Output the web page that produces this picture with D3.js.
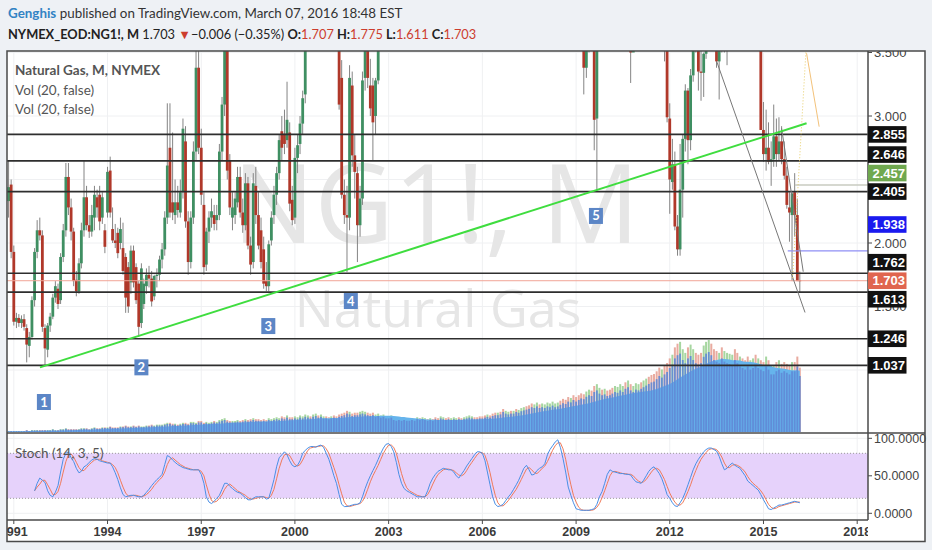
<!DOCTYPE html>
<html><head><meta charset="utf-8">
<script src="https://cdn.jsdelivr.net/npm/d3@7"></script>
<style>body{margin:0;background:#eef1f5;}svg{display:block}</style>
</head><body><svg id="c" width="932" height="550"></svg>
<script>
// ---------------- DATA (monthly NG1!, first bar = Nov 1990) ----------------
const startMonth = "1990-11";
const opens = [
 2.33,2.46,
 1.93,1.38,1.41,1.37,1.40,1.33,1.19,1.26,1.55,1.93,2.10,2.06,
 1.33,1.16,1.35,1.42,1.57,1.64,1.55,1.89,2.10,2.52,2.28,2.09,
 1.71,1.62,1.84,2.10,2.36,2.14,2.09,2.20,2.36,2.38,2.20,2.10,
 2.24,2.57,2.11,2.02,2.08,2.00,1.96,1.89,1.81,1.69,1.94,1.81,
 1.68,1.37,1.52,1.66,1.75,1.72,1.58,1.74,1.75,1.87,1.95,2.20,
 2.75,2.32,2.22,2.32,2.24,2.40,2.80,2.17,1.85,2.20,2.72,3.38,
 2.75,2.30,1.83,2.09,2.20,2.22,2.18,2.22,2.72,3.09,3.55,2.65,
 2.20,2.22,2.32,2.52,2.24,2.14,2.47,1.98,1.85,2.45,2.22,2.10,
 1.95,1.70,1.66,2.02,2.22,2.38,2.55,2.88,2.86,2.81,2.87,2.34,
 2.20,2.67,2.78,2.94,3.17,4.33,4.45,3.90,4.65,5.30,4.60,6.50,
 9.70,5.90,5.00,5.10,4.50,3.75,3.30,2.38,2.22,2.20,3.24,2.69,
 2.55,2.14,2.35,3.30,3.80,3.24,3.24,3.00,3.28,4.10,4.20,4.20,
 4.75,5.40,9.00,5.00,5.30,6.10,5.40,4.60,4.90,4.80,4.60,4.90,
 6.20,5.40,5.40,5.90,5.80,6.40,6.20,6.10,5.10,6.80,8.70,7.60,
 6.10,6.30,6.70,7.70,6.80,6.30,6.90,7.60,10.80,13.90,12.20,11.90,
 11.20,8.40,6.70,7.20,6.60,6.20,6.10,8.20,6.10,5.60,7.40,8.80,
 6.30,7.70,7.30,7.70,7.80,7.80,6.80,6.10,5.50,6.40,7.90,7.30,
 7.50,8.10,9.40,10.10,10.80,11.70,13.40,9.10,7.90,7.40,6.80,6.90,
 5.60,4.50,4.20,3.80,3.38,3.80,3.84,3.70,2.98,4.84,5.00,4.90,
 5.57,5.13,4.80,3.87,3.93,4.37,4.62,4.80,3.82,3.87,3.50,4.20,
 4.41,4.42,4.03,4.39,4.64,4.55,4.37,4.30,4.04,3.67,3.92,3.54,
 2.98,2.48,2.62,2.13,1.95,2.42,2.82,3.20,2.81,3.32,3.70,3.56,
 3.35,3.34,3.49,4.02,4.36,3.99,3.57,3.43,3.58,3.56,3.60,3.84,
 4.23,4.94,4.61,4.37,4.80,4.54,4.42,3.78,4.06,4.12,3.86,4.10,
 2.89,2.70,2.75,2.64,2.66,2.84,2.70,2.80,2.66,2.53,2.28,2.22,
 2.40,2.22,1.707];
const highs = [
 2.65,2.50,
 1.98,1.45,1.44,1.43,1.44,1.36,1.30,1.58,1.96,2.18,2.20,2.10,
 1.36,1.37,1.45,1.60,1.70,1.68,1.92,2.15,2.63,2.63,2.35,2.12,
 1.78,1.88,2.16,2.65,2.45,2.22,2.30,2.45,2.42,2.45,2.40,2.15,
 2.60,2.68,2.28,2.15,2.12,2.20,2.16,1.92,1.85,1.98,1.98,1.84,
 1.70,1.84,1.72,1.80,1.82,1.78,1.75,1.80,1.90,2.00,2.25,3.10,
 3.10,2.87,2.50,2.45,2.50,2.98,2.92,2.25,2.25,2.80,3.80,4.10,
 2.90,2.40,2.12,2.25,2.35,2.30,2.30,2.78,3.15,3.85,3.65,2.70,
 2.40,2.40,2.60,2.60,2.35,2.55,2.52,2.05,2.55,2.60,2.40,2.20,
 2.05,1.85,2.02,2.25,2.45,2.60,2.85,3.00,3.05,3.27,2.95,2.45,
 2.75,2.85,3.00,3.20,4.45,4.80,4.60,4.70,5.40,5.40,6.40,10.10,
 9.90,6.20,5.50,5.60,4.60,4.00,3.44,2.50,2.45,3.40,3.35,2.85,
 2.60,2.45,3.35,3.90,3.95,3.45,3.30,3.30,4.20,4.50,4.40,5.10,
 5.70,11.90,9.50,5.40,6.40,6.40,5.50,5.20,5.10,5.00,5.00,7.20,
 7.00,5.60,5.90,6.10,6.60,6.70,6.40,6.20,7.00,9.00,8.90,8.00,
 6.90,6.80,7.80,7.90,7.00,7.60,8.00,11.00,14.50,14.80,12.90,15.70,
 11.50,8.60,7.60,8.10,7.20,6.70,8.30,8.60,6.30,7.70,8.90,9.20,
 7.80,8.50,7.90,8.00,8.20,8.00,7.20,6.60,6.50,8.00,8.30,7.60,
 8.20,9.50,10.20,11.20,11.90,13.70,13.60,9.80,8.10,7.80,7.20,7.00,
 6.10,4.70,4.50,4.10,4.40,4.30,4.10,4.10,4.90,5.10,5.10,6.10,
 6.10,5.60,4.95,4.30,4.40,5.00,4.90,4.90,4.10,3.95,4.40,4.60,
 4.70,4.60,4.40,4.70,4.70,4.90,4.60,4.40,4.10,3.95,3.95,3.60,
 3.10,2.82,2.72,2.22,2.78,2.85,3.25,3.22,3.37,3.71,4.00,3.62,
 3.60,3.50,4.10,4.44,4.43,4.05,3.83,3.66,3.80,3.85,3.90,4.50,
 5.60,6.49,4.90,4.85,4.90,4.80,4.45,4.10,4.15,4.15,4.60,4.20,
 3.11,3.05,2.95,2.80,3.09,2.98,2.99,2.92,2.80,2.60,2.40,2.40,
 2.55,2.35,1.775];
const lows = [
 2.20,1.88,
 1.35,1.33,1.34,1.33,1.31,1.06,1.10,1.24,1.50,1.88,2.02,1.30,
 1.04,1.10,1.30,1.40,1.53,1.48,1.52,1.85,2.05,2.22,2.02,1.66,
 1.58,1.60,1.80,2.05,2.10,2.04,2.05,2.10,2.20,2.10,2.15,1.92,
 2.20,2.20,2.00,1.96,1.88,1.95,1.75,1.45,1.45,1.60,1.65,1.52,
 1.26,1.33,1.48,1.60,1.65,1.50,1.55,1.65,1.70,1.80,1.90,2.15,
 2.20,2.18,2.15,2.20,2.20,2.35,2.12,1.75,1.80,2.15,2.65,2.70,
 2.30,1.75,1.78,2.00,2.12,2.10,2.10,2.18,2.65,3.00,2.50,2.22,
 2.10,2.15,2.28,2.20,2.08,2.10,1.95,1.75,1.80,2.15,1.95,1.80,
 1.64,1.62,1.62,1.98,2.15,2.30,2.50,2.65,2.70,2.75,2.25,2.14,
 2.15,2.55,2.70,2.85,3.10,4.10,3.70,3.75,4.50,4.40,4.50,6.20,
 5.60,4.80,4.80,4.70,3.70,3.05,2.35,2.15,1.77,2.10,2.60,2.35,
 1.85,2.05,2.30,3.20,3.22,3.00,2.65,2.85,3.25,3.80,3.90,4.00,
 4.60,5.20,4.80,4.70,5.20,5.30,4.50,4.50,4.50,4.40,4.20,4.80,
 5.20,5.10,5.20,5.30,5.70,6.00,5.90,5.00,4.60,6.60,6.70,5.90,
 5.80,5.90,6.60,6.50,6.10,6.20,6.80,7.50,10.50,11.90,10.50,11.00,
 8.00,6.60,6.40,6.60,5.90,5.90,5.70,6.10,4.20,4.90,7.20,6.20,
 5.80,7.20,6.90,7.50,7.50,6.80,5.90,5.30,5.30,6.30,7.00,6.90,
 7.40,7.70,8.90,9.30,10.60,11.40,9.00,7.70,7.00,6.20,6.00,5.40,
 4.50,4.00,3.60,3.17,3.30,3.50,3.55,2.73,2.41,4.00,4.20,4.40,
 5.10,4.80,3.80,3.80,3.90,4.10,4.30,3.80,3.65,3.26,3.52,4.00,
 4.20,3.80,3.80,4.10,4.00,4.30,4.20,3.80,3.65,3.55,3.43,2.95,
 2.23,2.42,2.10,1.90,1.90,2.20,2.72,2.62,2.73,3.27,3.50,3.20,
 3.12,3.15,3.45,3.90,3.95,3.56,3.38,3.13,3.50,3.50,3.40,3.80,
 4.10,4.50,4.20,4.30,4.40,4.40,3.75,3.73,3.80,3.55,3.75,2.89,
 2.64,2.57,2.62,2.45,2.60,2.60,2.65,2.62,2.50,2.27,2.01,1.70,
 2.05,1.70,1.611];
const closes = [
 2.44,1.93,
 1.38,1.41,1.37,1.40,1.34,1.20,1.26,1.55,1.93,2.10,2.06,1.34,
 1.17,1.35,1.42,1.57,1.66,1.52,1.89,2.10,2.52,2.28,2.09,1.70,
 1.62,1.84,2.10,2.36,2.14,2.09,2.22,2.38,2.28,2.17,2.36,1.97,
 2.56,2.24,2.02,2.00,1.92,2.11,1.78,1.57,1.50,1.94,1.69,1.55,
 1.34,1.80,1.68,1.75,1.72,1.54,1.74,1.75,1.87,1.95,2.20,2.61,
 2.24,2.24,2.32,2.26,2.40,2.90,2.17,1.85,2.20,2.72,3.38,2.75,
 2.38,1.81,2.09,2.20,2.25,2.15,2.22,2.72,3.09,3.60,2.57,2.28,
 2.28,2.35,2.52,2.24,2.14,2.47,1.98,1.83,2.47,2.22,1.98,1.85,
 1.68,1.66,1.99,2.20,2.38,2.55,2.81,2.75,2.78,2.97,2.31,2.18,
 2.67,2.77,2.94,3.14,4.33,4.48,3.81,4.65,5.30,4.55,6.30,9.78,
 6.10,5.00,5.10,4.70,3.75,3.09,2.38,2.22,2.20,3.30,2.69,2.56,
 2.14,2.35,3.28,3.80,3.30,3.06,2.95,3.28,4.10,4.20,4.20,4.75,
 5.40,9.10,5.00,5.30,6.10,5.40,4.60,4.90,4.80,4.60,4.90,6.20,
 5.40,5.40,5.90,5.80,6.40,6.20,6.10,5.10,6.80,8.70,7.60,6.10,
 6.30,6.70,7.70,6.80,6.30,6.90,7.60,10.80,13.90,12.20,11.90,11.20,
 8.40,6.70,7.20,6.60,6.20,6.10,8.20,6.10,5.60,7.40,8.80,6.30,
 7.70,7.30,7.70,7.80,7.80,6.80,6.10,5.50,6.40,7.90,7.30,7.50,
 8.10,9.40,10.10,10.80,11.70,13.40,9.10,7.90,7.40,6.80,6.90,5.60,
 4.50,4.20,3.80,3.38,3.80,3.84,3.70,2.97,4.84,5.00,4.90,5.57,
 5.13,4.80,3.87,3.93,4.37,4.62,4.80,3.82,3.87,3.50,4.20,4.41,
 4.42,4.03,4.39,4.64,4.55,4.37,4.30,4.04,3.67,3.92,3.54,2.99,
 2.50,2.62,2.13,1.95,2.42,2.82,3.20,2.81,3.32,3.70,3.56,3.35,
 3.34,3.49,4.02,4.36,3.99,3.57,3.43,3.58,3.56,3.60,3.84,4.23,
 4.94,4.61,4.37,4.80,4.54,4.42,3.78,4.06,4.12,3.86,4.10,2.89,
 2.70,2.75,2.64,2.66,2.84,2.70,2.80,2.66,2.53,2.30,2.24,2.39,
 2.22,1.70,1.703];
const volumes = [
 1,1,
 1,1,1,1,1,2,1,2,2,2,2,2,
 2,2,2,3,2,2,3,3,4,3,3,3,
 3,3,4,4,4,3,4,5,4,4,5,5,
 5,6,5,5,5,6,6,7,6,6,7,6,
 7,6,6,7,7,8,7,8,8,8,9,10,
 10,9,9,8,9,10,10,9,11,11,10,12,
 12,10,11,10,11,12,11,13,14,15,13,12,
 12,12,13,12,13,14,13,14,15,14,14,13,
 14,13,15,14,15,16,15,17,16,18,16,16,
 17,16,18,17,19,18,17,19,20,18,19,17,
 17,16,17,18,17,19,20,21,23,22,20,21,
 21,22,23,22,21,20,21,19,20,18,19,17,
 17,18,15,14,15,14,15,14,14,15,14,16,
 15,16,15,14,15,14,16,15,17,16,15,16,
 15,16,15,16,15,16,17,18,17,16,16,17,
 17,18,19,18,20,21,21,22,25,23,22,23,
 23,25,24,26,27,28,29,31,30,32,30,31,
 30,32,31,33,31,32,34,36,35,38,37,40,
 38,40,42,41,44,46,45,50,52,48,46,47,
 45,46,48,50,49,52,50,54,56,52,50,53,
 52,54,56,58,60,62,63,66,70,68,72,75,
 80,84,92,96,98,90,86,92,95,90,86,84,
 86,94,98,100,96,90,88,86,92,88,86,85,
 84,90,86,82,80,78,82,78,80,84,80,78,
 76,82,78,72,72,76,78,74,76,74,72,76,
 76,82,70];
const stochK = [
 null,null,
 null,null,null,null,null,null,null,null,30,40,47,44,
 41,30,24,22,28,37,55,72,80,82,74,69,
 60,54,56,62,64,68,71,73,72,70,69,68,
 67,67,62,54,45,34,25,22,23,24,24,23,
 22,22,24,28,32,37,41,45,48,52,65,77,
 75,71,68,65,63,61,60,59,58,58,58,58,
 52,40,22,15,13,16,20,24,32,40,40,36,
 33,30,28,27,24,21,18,18,20,22,22,22,
 22,19,20,32,45,62,74,78,82,78,70,64,
 62,64,70,80,84,87,89,89,88,90,91,88,
 80,72,62,50,40,25,12,9,9,10,11,12,
 12,14,22,33,42,50,57,64,72,80,87,92,
 93,89,82,68,52,40,33,30,28,26,24,22,
 22,22,22,30,40,47,52,56,58,60,59,58,
 58,55,50,47,52,57,63,68,73,78,82,82,
 80,70,55,38,22,12,9,10,12,17,22,26,
 32,38,44,52,60,64,58,51,52,57,60,62,
 66,78,85,90,95,98,88,73,55,35,24,14,
 6,5,4,4,4,4,5,6,12,22,29,40,
 52,58,56,55,54,53,53,52,52,51,46,42,
 41,40,44,50,56,60,62,58,53,46,36,25,
 20,14,10,9,14,20,28,38,48,58,66,72,
 77,82,85,87,87,85,83,76,66,58,60,64,
 67,64,62,60,55,50,43,40,37,34,31,25,
 18,12,6,5,7,9,11,11,12,13,14,15,
 16,15,14];
const stochD = [
 null,null,
 null,null,null,null,null,null,null,null,30,35,39,44,
 44,38,32,25,25,29,40,55,69,78,79,75,
 68,61,57,57,61,65,68,71,72,72,70,69,
 68,67,65,61,54,44,35,27,23,23,24,24,
 23,22,23,25,28,32,37,41,45,48,55,65,
 72,74,71,68,65,63,61,60,59,58,58,58,
 56,50,38,26,17,15,16,20,25,32,37,39,
 36,33,30,28,26,24,21,19,19,20,21,22,
 22,21,20,24,32,46,60,71,78,79,77,71,
 65,63,65,71,78,84,87,88,89,89,90,90,
 86,80,71,61,51,38,26,15,10,9,10,11,
 12,13,16,23,32,42,50,57,64,72,80,86,
 91,91,88,80,67,53,42,34,30,28,26,24,
 23,22,22,25,31,39,46,52,55,58,59,59,
 58,57,54,51,50,52,57,63,68,73,78,81,
 81,77,68,54,38,24,14,10,10,13,17,22,
 27,32,38,45,52,59,61,58,54,53,56,60,
 63,69,76,84,90,94,94,86,72,54,38,24,
 15,8,5,4,4,4,4,5,8,13,21,30,
 40,50,55,56,55,54,53,53,52,52,50,46,
 43,41,42,45,50,55,59,60,58,52,45,36,
 27,20,15,11,11,14,21,29,38,48,57,65,
 72,77,81,85,86,86,85,81,75,67,61,61,
 64,65,64,62,59,55,49,44,40,37,34,30,
 25,18,12,8,6,7,9,10,11,12,13,14,
 15,15,15];

const levelPrices = [2.855, 2.646, 2.405, 1.762, 1.613, 1.246, 1.037];
const greenLabelPrice = 2.457;
const blueRayPrice = 1.938;
const priceTicks = [3.5, 3.0, 2.5, 2.0, 1.5, 1.0];
const majorPriceTicks = [3.0, 2.0, 1.0];
const stochTicks = [100, 50, 0];
const stochBand = [20, 80];
const yearTicks = [1991, 1994, 1997, 2000, 2003, 2006, 2009, 2012, 2015, 2018];
const supportLine = [["1991-11-03", 1.021], ["2016-05-19", 2.943]];
const downLine1 = [["2013-07-04", 3.428], ["2016-05-01", 1.453]];
const downLine2 = [["2015-08-01", 2.903], ["2016-04-10", 1.774]];
const dottedLine = [["2015-12-08", 1.724], ["2016-05-12", 3.512]];
const orangeLine = [["2016-05-19", 3.494], ["2016-10-13", 2.916]];
const blueRayStart = "2015-10-12";
const greyRayStart = "2016-01-03";
const pointLabels = [
  {n: "1", date: "1991-12-19", price: 0.748},
  {n: "2", date: "1995-02-01", price: 1.021},
  {n: "3", date: "1999-02-24", price: 1.346},
  {n: "4", date: "2001-10-16", price: 1.543},
  {n: "5", date: "2009-08-21", price: 2.213}
];
const headerAuthor = "Genghis";
const headerRest = " published on TradingView.com, March 07, 2016 18:48 EST";
const symbolText = "NYMEX_EOD:NG1!, M";
const changeText = "\u22120.006 (\u22120.35%)";

// ---------------- LAYOUT ----------------
const W = 932, H = 550;
const L = 7, R = 925, T = 51, B = 541.5, AX = 868, PB = 433, SB = 520;
const parseM = d3.timeParse("%Y-%m"), parseD = d3.timeParse("%Y-%m-%d");
const t0 = parseM(startMonth);
const bars = closes.map((c, i) => ({
  date: d3.timeMonth.offset(t0, i), o: opens[i], h: highs[i], l: lows[i], c,
  v: volumes[i], k: stochK[i], d: stochD[i]
}));
// volume moving average (Vol 20)
bars.forEach((b, i) => { b.ma = d3.mean(volumes.slice(Math.max(0, i - 19), i + 1)); });

const x = d3.scaleTime().domain([new Date(1991, 0, 1), new Date(2018, 0, 1)]).range([13.8, 857.2]);
const y = d3.scaleLinear().domain([0, 3.5]).range([497, 52.5]);
const yS = d3.scaleLinear().domain([0, 100]).range([513.3, 438.3]);
const yV1 = d3.scaleLinear().domain([0, 100]).range([PB - 1, 340]);
const yV2 = d3.scaleLinear().domain([0, 100]).range([PB - 1, 352]);

const svg = d3.select("#c");
const defs = svg.append("defs");
function clip(id, x0, y0, w, h) {
  defs.append("clipPath").attr("id", id).append("rect").attr("x", x0).attr("y", y0).attr("width", w).attr("height", h);
}
clip("cMain", L, T, AX - L, PB - T);
clip("cStoch", L, PB, AX - L, SB - PB);
clip("cTime", L, SB, AX - L, B - SB);
clip("cPrice", AX, T, R - AX, PB - T);

svg.append("rect").attr("width", W).attr("height", H).attr("fill", "#eef1f5");
svg.append("rect").attr("x", L).attr("y", T).attr("width", R - L).attr("height", B - T).attr("fill", "#fff");

// header
const hf = "Lato, 'Open Sans', sans-serif";
const h1 = svg.append("text").attr("x", 8).attr("y", 18).attr("font-family", hf).attr("font-size", 13.4);
h1.append("tspan").text(headerAuthor).attr("fill", "#3283c4").attr("font-weight", 700);
h1.append("tspan").text(headerRest).attr("fill", "#333");
const last = bars[bars.length - 1];
const red = "#cc3d2e", f3 = d3.format(".3f");
const h2 = svg.append("text").attr("x", 8).attr("y", 38.5).attr("font-family", hf).attr("font-size", 12.8).attr("fill", "#222");
[[symbolText, 700, "#222"], [" " + f3(last.c) + " ", 400, "#222"], ["\u25BC", 400, red], [changeText + " ", 400, "#222"],
 ["O:", 700, "#222"], [f3(last.o), 400, red], [" H:", 700, "#222"], [f3(last.h), 400, red],
 [" L:", 700, "#222"], [f3(last.l), 400, red], [" C:", 700, "#222"], [f3(last.c), 400, red]]
 .forEach(([t, w, c]) => h2.append("tspan").text(t).attr("font-weight", w).attr("fill", c));

// grid
const grid = svg.append("g").attr("stroke", "#eff0f2").attr("stroke-width", 1);
yearTicks.forEach(yr => {
  const xx = x(new Date(yr, 0, 1));
  if (xx > L && xx < AX) grid.append("line").attr("x1", xx).attr("x2", xx).attr("y1", T).attr("y2", SB);
});
priceTicks.forEach(p => grid.append("line").attr("x1", L).attr("x2", AX).attr("y1", y(p)).attr("y2", y(p)).attr("clip-path", "url(#cMain)"));
stochTicks.forEach(s => grid.append("line").attr("x1", L).attr("x2", AX).attr("y1", yS(s)).attr("y2", yS(s)));

// watermark
const main = svg.append("g").attr("clip-path", "url(#cMain)");
main.append("text").attr("x", 436).attr("y", 243).attr("text-anchor", "middle").attr("font-family", "'Open Sans', sans-serif")
  .attr("font-size", 109).attr("fill", "#e6e6e6").text("NG1!, M");
main.append("text").attr("x", 438).attr("y", 327).attr("text-anchor", "middle").attr("font-family", "'Open Sans', sans-serif")
  .attr("font-size", 52).attr("fill", "#e6e6e6").text("Natural Gas");

// volume
const vg = main.append("g");
vg.selectAll("rect.vc").data(bars).join("rect")
  .attr("x", d => x(d.date) - 1).attr("width", 2)
  .attr("y", d => yV1(d.v)).attr("height", d => PB - 1 - yV1(d.v))
  .attr("fill", d => d.c >= d.o ? "#a6d6a0" : "#e9aba0");
vg.append("path").datum(bars)
  .attr("d", d3.area().x(d => x(d.date)).y0(PB - 1).y1(d => yV2(d.ma)))
  .attr("fill", "#66b4ec");
vg.selectAll("rect.vb").data(bars).join("rect")
  .attr("x", d => x(d.date) - 0.9).attr("width", 1.8)
  .attr("y", d => yV2(d.v)).attr("height", d => PB - 1 - yV2(d.v))
  .attr("fill", "#5f88d6").attr("opacity", 0.9);

// candles
const cg = main.append("g");
cg.selectAll("line").data(bars).join("line")
  .attr("x1", d => x(d.date)).attr("x2", d => x(d.date))
  .attr("y1", d => y(d.h)).attr("y2", d => y(d.l))
  .attr("stroke", "#848484").attr("stroke-width", 1);
cg.selectAll("rect").data(bars).join("rect")
  .attr("x", d => x(d.date) - 1.4).attr("width", 2.8)
  .attr("y", d => y(Math.max(d.o, d.c)))
  .attr("height", d => Math.max(1, Math.abs(y(d.o) - y(d.c))))
  .attr("fill", d => d.c >= d.o ? "#3f8f62" : "#b0382a");

// horizontal levels, rays, current price
levelPrices.forEach(p => main.append("line").attr("x1", L).attr("x2", AX).attr("y1", y(p)).attr("y2", y(p))
  .attr("stroke", "#2e2e2e").attr("stroke-width", 1.7));
main.append("line").attr("x1", L).attr("x2", AX).attr("y1", y(last.c)).attr("y2", y(last.c))
  .attr("stroke", "#f1a597").attr("stroke-width", 1);
main.append("line").attr("x1", x(parseD(blueRayStart))).attr("x2", AX).attr("y1", y(blueRayPrice)).attr("y2", y(blueRayPrice))
  .attr("stroke", "#8f8ff5").attr("stroke-width", 1.2);
main.append("line").attr("x1", x(parseD(greyRayStart))).attr("x2", AX).attr("y1", y(greenLabelPrice)).attr("y2", y(greenLabelPrice))
  .attr("stroke", "#c9cbc0").attr("stroke-width", 1.5);

// trend lines
const seg = pts => d3.line().x(d => x(parseD(d[0]))).y(d => y(d[1]))(pts);
main.append("path").attr("d", seg(downLine1)).attr("stroke", "#777").attr("stroke-width", 1).attr("fill", "none");
main.append("path").attr("d", seg(downLine2)).attr("stroke", "#777").attr("stroke-width", 1).attr("fill", "none");
main.append("path").attr("d", seg(dottedLine)).attr("stroke", "#e8cf6a").attr("stroke-width", 1).attr("stroke-dasharray", "1,2").attr("fill", "none");
main.append("path").attr("d", seg(orangeLine)).attr("stroke", "#f3c27a").attr("stroke-width", 1).attr("fill", "none");
main.append("path").attr("d", seg(supportLine)).attr("stroke", "#3fdd3f").attr("stroke-width", 2).attr("fill", "none");

// numbered labels
pointLabels.forEach(p => {
  const cx = x(parseD(p.date)), cy = y(p.price);
  main.append("rect").attr("x", cx - 7).attr("y", cy - 8).attr("width", 14).attr("height", 16).attr("fill", "#5c86c6");
  main.append("text").attr("x", cx).attr("y", cy + 4.5).attr("text-anchor", "middle").attr("fill", "#fff")
    .attr("font-family", "Lato, sans-serif").attr("font-weight", 700).attr("font-size", 13).text(p.n);
});

// legends
const lf = "Lato, 'Open Sans', sans-serif";
svg.append("text").attr("x", 15).attr("y", 75).attr("font-family", lf).attr("font-size", 13.5).attr("font-weight", 700).attr("fill", "#555").text("Natural Gas, M, NYMEX");
svg.append("text").attr("x", 15).attr("y", 94.5).attr("font-family", lf).attr("font-size", 13.5).attr("fill", "#555").text("Vol (20, false)");
svg.append("text").attr("x", 15).attr("y", 114).attr("font-family", lf).attr("font-size", 13.5).attr("fill", "#555").text("Vol (20, false)");

// stochastic pane
const sg = svg.append("g").attr("clip-path", "url(#cStoch)");
sg.append("rect").attr("x", L).attr("width", AX - L).attr("y", yS(stochBand[1])).attr("height", yS(stochBand[0]) - yS(stochBand[1])).attr("fill", "#e6d2fb");
stochBand.forEach(s => sg.append("line").attr("x1", L).attr("x2", AX).attr("y1", yS(s)).attr("y2", yS(s))
  .attr("stroke", "#999").attr("stroke-dasharray", "1,2"));
sg.append("path").datum(bars).attr("d", d3.line().defined(d => d.d != null).x(d => x(d.date)).y(d => yS(d.d)))
  .attr("fill", "none").attr("stroke", "#f07a5a").attr("stroke-width", 1);
sg.append("path").datum(bars).attr("d", d3.line().defined(d => d.k != null).x(d => x(d.date)).y(d => yS(d.k)))
  .attr("fill", "none").attr("stroke", "#4a8fe6").attr("stroke-width", 1);
svg.append("text").attr("x", 15).attr("y", 458).attr("font-family", lf).attr("font-size", 13.5).attr("fill", "#555").text("Stoch (14, 3, 5)");

// frame lines
const fr = svg.append("g").attr("stroke", "#4a4a4a");
fr.append("line").attr("x1", L).attr("x2", R).attr("y1", PB).attr("y2", PB).attr("stroke-width", 1.5);
fr.append("line").attr("x1", L).attr("x2", AX).attr("y1", SB).attr("y2", SB).attr("stroke-width", 1.5);
fr.append("line").attr("x1", AX).attr("x2", AX).attr("y1", T).attr("y2", SB).attr("stroke-width", 1.5);
fr.append("rect").attr("x", L).attr("y", T).attr("width", R - L).attr("height", B - T).attr("fill", "none").attr("stroke-width", 1.5);

// time axis
const ta = svg.append("g").attr("clip-path", "url(#cTime)");
yearTicks.forEach(yr => {
  const xx = x(new Date(yr, 0, 1));
  ta.append("line").attr("x1", xx).attr("x2", xx).attr("y1", SB).attr("y2", SB + 4).attr("stroke", "#4a4a4a");
  ta.append("text").attr("x", xx).attr("y", 536).attr("text-anchor", "middle").attr("font-family", "'Liberation Sans', Arial, sans-serif")
    .attr("font-size", 12.5).attr("font-weight", 700).attr("fill", "#3a3a3a").text(yr);
});

// price axis labels with collision layout
const labels = levelPrices.map(v => ({v, fill: "#111"}));
labels.push({v: greenLabelPrice, fill: "#6fa84f"});
labels.push({v: blueRayPrice, fill: "#1a1aef"});
labels.push({v: last.c, fill: "#e0654f", fixed: true});
labels.forEach(d => d.y = y(d.v));
const gap = 18.5;
const cur = labels.find(d => d.fixed);
let lastY = cur.y;
labels.filter(d => d.v > cur.v).sort((a, b) => b.y - a.y).forEach(d => {
  let yy = Math.min(d.y, lastY - gap);
  majorPriceTicks.forEach(t => { const ty = y(t); if (Math.abs(yy - ty) < 17) yy = ty - 18.5; });
  d.y = yy; lastY = yy;
});
lastY = cur.y;
labels.filter(d => d.v < cur.v).sort((a, b) => a.y - b.y).forEach(d => {
  d.y = Math.max(d.y, lastY + gap); lastY = d.y;
});
const pa = svg.append("g").attr("clip-path", "url(#cPrice)");
priceTicks.forEach(p => {
  const yy = y(p);
  pa.append("line").attr("x1", AX).attr("x2", AX + 4).attr("y1", yy).attr("y2", yy).attr("stroke", "#4a4a4a");
  if (labels.some(d => Math.abs(d.y - yy) < 7)) return;
  pa.append("text").attr("x", 874).attr("y", yy + 4.5).attr("font-family", "'Liberation Sans', Arial, sans-serif")
    .attr("font-size", 13).attr("fill", "#444").text(f3(p));
});
labels.forEach(d => {
  pa.append("rect").attr("x", AX).attr("y", d.y - 8.3).attr("width", 38.5).attr("height", 16.6).attr("fill", d.fill);
  pa.append("text").attr("x", 872.5).attr("y", d.y + 4.6).attr("font-family", "'Liberation Sans', Arial, sans-serif")
    .attr("font-size", 13).attr("font-weight", 700).attr("fill", "#fff").text(f3(d.v));
});
// stoch axis
const f4 = d3.format(".4f");
stochTicks.forEach(s => {
  svg.append("line").attr("x1", AX).attr("x2", AX + 4).attr("y1", yS(s)).attr("y2", yS(s)).attr("stroke", "#4a4a4a");
  svg.append("text").attr("x", 874).attr("y", yS(s) + 4.5).attr("font-family", "'Liberation Sans', Arial, sans-serif")
    .attr("font-size", 12.5).attr("fill", "#444").text(f4(s));
});
</script></body></html>
